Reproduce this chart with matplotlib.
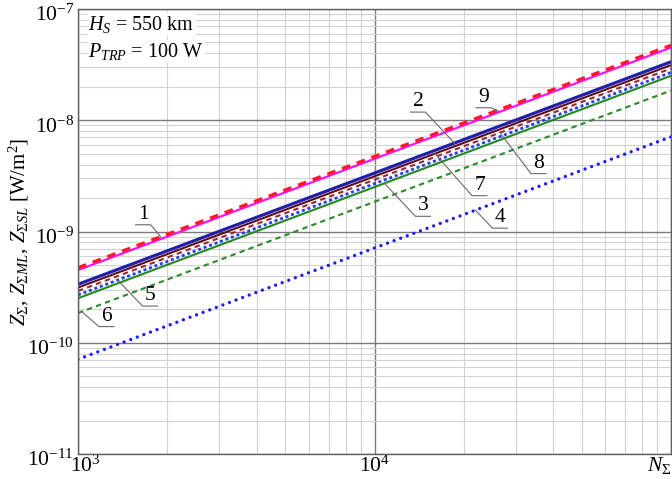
import numpy as np
import matplotlib
matplotlib.use('Agg')
import matplotlib.pyplot as plt
from matplotlib.transforms import IdentityTransform, ScaledTranslation

plt.rcParams['font.family'] = ['Liberation Serif', 'DejaVu Serif']
plt.rcParams['mathtext.fontset'] = 'custom'
plt.rcParams['mathtext.rm'] = 'Liberation Serif'
plt.rcParams['mathtext.it'] = 'Liberation Serif:italic'

# DATA (values at N = 1e3, 1e4, 1e5)
N_SIGMA = [1e3, 1e4, 1e5]
Z_1 = [4.72e-10, 4.72e-9, 4.72e-8]   # red dashed
Z_2 = [3.35e-10, 3.35e-9, 3.35e-8]   # blue thick
Z_3 = [2.51e-10, 2.51e-9, 2.51e-8]   # green solid
Z_4 = [7.1e-11, 7.1e-10, 7.1e-9]     # blue sparse dots
Z_5 = [2.69e-10, 2.69e-9, 2.69e-8]   # blue dense dots
Z_6 = [1.85e-10, 1.85e-9, 1.85e-8]   # green dashed
Z_7 = [3.13e-10, 3.13e-9, 3.13e-8]   # dark red solid
Z_8 = [2.92e-10, 2.92e-9, 2.92e-8]   # brown dashed
Z_9 = [4.5e-10, 4.5e-9, 4.5e-8]      # magenta solid

X_TICKS = [1e3, 1e4, 1e5]
X_TICK_LABELS = [r'$10^3$', r'$10^4$', r'$N_\Sigma$']
Y_TICKS = [1e-11, 1e-10, 1e-9, 1e-8, 1e-7]
Y_TICK_LABELS = [r'$10^{-11}$', r'$10^{-10}$', r'$10^{-9}$', r'$10^{-8}$', r'$10^{-7}$']

W, H = 672, 479
fig = plt.figure(figsize=(W / 100, H / 100), dpi=100)
ax = fig.add_axes([78 / W, (H - 454) / H, (671 - 78) / W, (454 - 9) / H])
ax.set_xscale('log')
ax.set_yscale('log')
ax.set_xlim(1e3, 1e5)
ax.set_ylim(1e-11, 1e-7)

ax.grid(which='minor', color='#d2d2d2', lw=0.8)
ax.grid(which='major', color='#7a7a7a', lw=1.0)
ax.set_axisbelow(True)
for s in ax.spines.values():
    s.set_color('#606060')
    s.set_linewidth(1.0)

series = {
    '4': (Z_4, dict(color='#1a1aff', lw=2.4, ls=(0, (0.01, 2.1)), dash_capstyle='round')),
    '6': (Z_6, dict(color='#2a8a2a', lw=1.5, ls=(0, (2.6, 2.0)))),
    '3': (Z_3, dict(color='#1f8a1f', lw=1.5)),
    '5': (Z_5, dict(color='#2a3cff', lw=2.0, ls=(0, (1.1, 1.0)))),
    '8': (Z_8, dict(color='#9a2a2a', lw=1.5, ls=(0, (2.6, 2.0)))),
    '7': (Z_7, dict(color='#5a0010', lw=1.4)),
    '2': (Z_2, dict(color='#2020a8', lw=2.3)),
    '9': (Z_9, dict(color='#ff10ff', lw=1.6)),
    '1': (Z_1, dict(color='#ff1a2a', lw=2.4, ls=(0, (2.6, 2.1)))),
}
for name, (z, style) in series.items():
    ax.plot(N_SIGMA, z, **style)

ax.tick_params(which='both', length=0, labelsize=15.5)
ax.set_xticks(X_TICKS)
ax.set_xticklabels(X_TICK_LABELS)
ax.xaxis.set_minor_formatter(plt.NullFormatter())
ax.get_xticklabels()[-1].set_horizontalalignment('right')
ax.set_yticks(Y_TICKS)
ax.set_yticklabels(Y_TICK_LABELS)
ax.yaxis.set_minor_formatter(plt.NullFormatter())
ax.tick_params(axis='y', pad=3)
ax.tick_params(axis='x', pad=1)

# nudge labels like in the source figure
down = ScaledTranslation(0, -3 / 72, fig.dpi_scale_trans)
for lab in ax.get_yticklabels():
    lab.set_transform(lab.get_transform() + down)
first = ax.get_xticklabels()[0]
first.set_transform(first.get_transform() + ScaledTranslation(5.5 / 72, 0, fig.dpi_scale_trans))

ax.set_ylabel(r'$Z_\Sigma,\, Z_{\Sigma ML},\, Z_{\Sigma SL}$ [W/m$^2$]', fontsize=15, labelpad=-3)

# parameter box
ax.text(88, H - 30, r'$H_S$ = 550 km', transform=IdentityTransform(), fontsize=14.5,
        va='baseline', ha='left', bbox=dict(fc='white', ec='none', pad=1))
ax.text(88, H - 57, r'$P_{TRP}$ = 100 W', transform=IdentityTransform(), fontsize=14.5,
        va='baseline', ha='left', bbox=dict(fc='white', ec='none', pad=1))

# curve numbers: target N, leader end offset (px, image y down), underline direction
LABEL_POS = {
    '1': (1900, -10, -12, -1),
    '9': (26500, -9, -4, -1),
    '2': (18600, -29, -31, -1),
    '7': (16000, 37, 42, 1),
    '8': (26500, 31, 41, 1),
    '3': (10800, 31, 33, 1),
    '4': (21900, 17, 18, 1),
    '5': (1360, 25, 26, 1),
    '6': (1030, 17, 15, 1),
}
ident = IdentityTransform()
for name, (n, dx, dy, side) in LABEL_POS.items():
    z = series[name][0]
    lz = np.interp(np.log10(n), np.log10(N_SIGMA), np.log10(z))
    tx, ty = ax.transData.transform((n, 10 ** lz))
    ax_, ay_ = tx + dx, ty - dy
    ex = ax_ + side * 15
    ax.plot([tx, ax_, ex], [ty, ay_, ay_], color='#6a6a6a', lw=0.8,
            transform=ident, clip_on=False)
    ax.text((ax_ + ex) / 2, ay_ + 1, name, transform=ident, fontsize=15.5,
            ha='center', va='bottom')

fig.savefig('out.png', dpi=100)
